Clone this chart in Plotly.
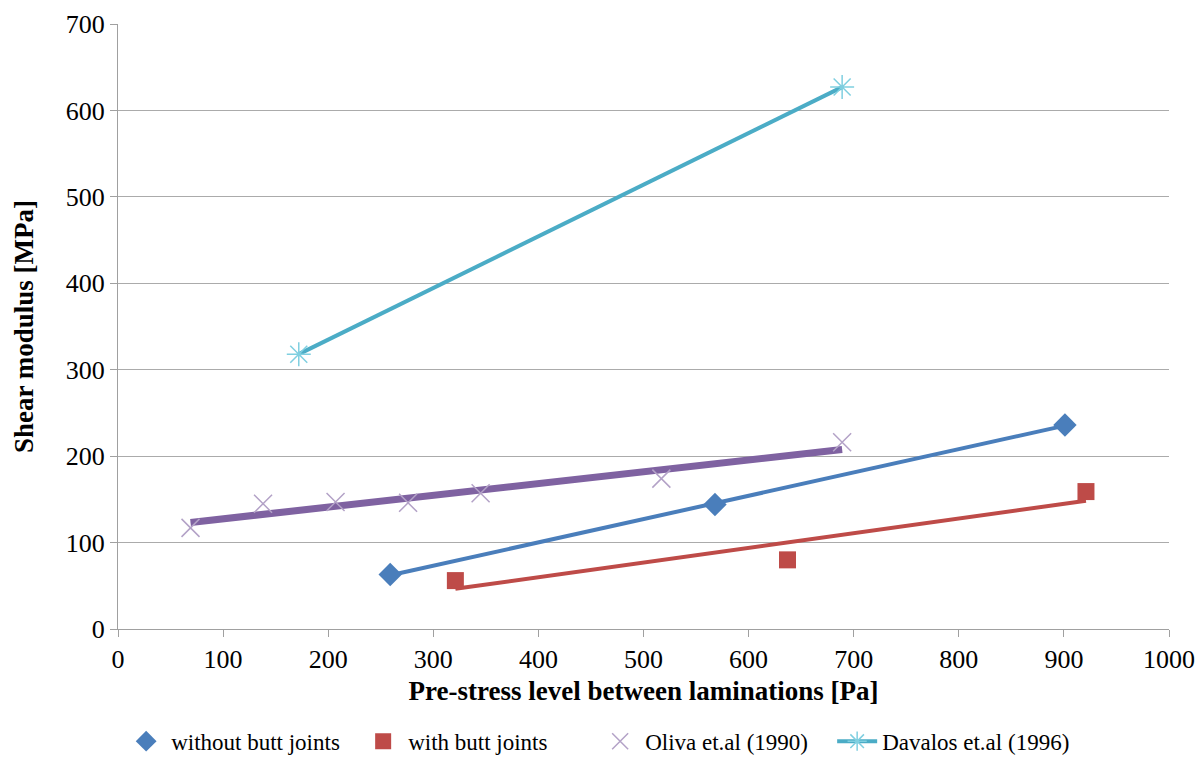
import numpy as np
import plotly.graph_objects as go

# Pre-stress level [Pa] and shear modulus [MPa] for each data set
without_x = [259, 568, 901]
without_y = [63, 144, 236]

with_x = [321, 637, 921]
with_y = [56, 80, 159]

oliva_x = [69, 138, 207, 276, 345, 517, 689]
oliva_y = [117, 145, 147, 146, 157, 174, 216]

davalos_x = [172, 689]
davalos_y = [318, 627]

x_ticks = [0, 100, 200, 300, 400, 500, 600, 700, 800, 900, 1000]
y_ticks = [0, 100, 200, 300, 400, 500, 600, 700]

FONT = "Times New Roman, Liberation Serif, serif"
BLUE = "#4A7EBB"
RED = "#BE4B48"
PURPLE_LINE = "#7F62A1"
PURPLE_MARK = "#B3A2C7"
CYAN = "#4BACC6"
CYAN_MARK = "#7FCFE0"


def trend(xs, ys):
    """Least-squares linear trendline over the range of the data."""
    k, b = np.polyfit(xs, ys, 1)
    xe = np.array([min(xs), max(xs)], dtype=float)
    return xe, k * xe + b


fig = go.Figure()

# linear trendlines (not shown in the legend)
for xs, ys, col, w in [
    (without_x, without_y, BLUE, 4),
    (with_x, with_y, RED, 4),
    (oliva_x, oliva_y, PURPLE_LINE, 7),
]:
    tx, ty = trend(xs, ys)
    fig.add_trace(go.Scatter(x=tx, y=ty, mode="lines", showlegend=False,
                             line=dict(color=col, width=w), hoverinfo="skip"))

fig.add_trace(go.Scatter(
    x=without_x, y=without_y, mode="markers", name="without butt joints",
    marker=dict(symbol="diamond", size=18, color=BLUE)))
fig.add_trace(go.Scatter(
    x=with_x, y=with_y, mode="markers", name="with butt joints",
    marker=dict(symbol="square", size=17, color=RED)))
fig.add_trace(go.Scatter(
    x=oliva_x, y=oliva_y, mode="markers", name="Oliva et.al (1990)",
    marker=dict(symbol="x-thin-open", size=18, color=PURPLE_MARK,
                line=dict(width=1.5, color=PURPLE_MARK))))
fig.add_trace(go.Scatter(
    x=davalos_x, y=davalos_y, mode="lines+markers", name="Davalos et.al (1996)",
    line=dict(color=CYAN, width=4),
    marker=dict(symbol="asterisk-open", size=20, color=CYAN_MARK,
                line=dict(width=1.5, color=CYAN_MARK))))

axis_common = dict(
    showline=True, linecolor="#A0A0A0", linewidth=1.3,
    ticks="outside", ticklen=7, tickcolor="#A0A0A0", tickwidth=1.3,
    tickfont=dict(family=FONT, size=26, color="#000000"),
    zeroline=False, automargin=False,
)

fig.update_xaxes(
    range=[0, 1000], tickvals=x_ticks, showgrid=False,
    title=dict(text="<b>Pre-stress level between laminations [Pa]</b>",
               font=dict(family=FONT, size=27, color="#000000"), standoff=7),
    **axis_common)
fig.update_yaxes(
    range=[0, 700], tickvals=y_ticks, showgrid=True,
    gridcolor="#ABABAB", gridwidth=1.3,
    title=dict(text="<b>Shear modulus [MPa]</b>",
               font=dict(family=FONT, size=27, color="#000000"), standoff=24),
    **axis_common)

fig.update_layout(
    width=1201, height=766,
    margin=dict(l=118, r=32, t=24, b=137, autoexpand=False),
    paper_bgcolor="white", plot_bgcolor="white",
    font=dict(family=FONT, color="#000000"),
    legend=dict(orientation="h", x=0.003, xanchor="left", y=-0.150,
                yanchor="top", font=dict(family=FONT, size=23),
                itemwidth=40, tracegroupgap=0,
                entrywidth=182, entrywidthmode="pixels"),
)

fig.write_html("out.html")
